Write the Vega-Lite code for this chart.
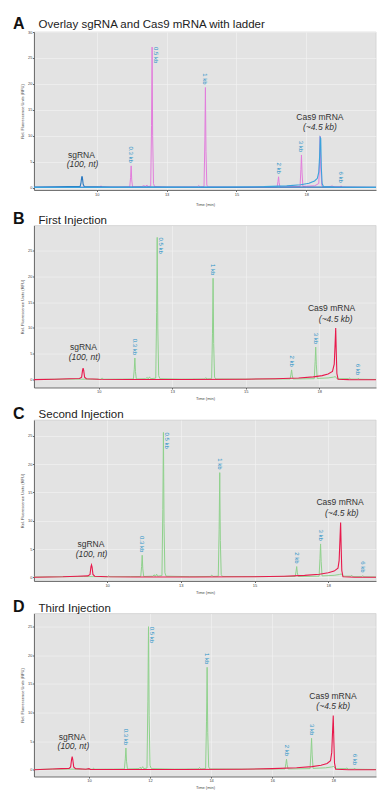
{
"$schema": "https://vega.github.io/schema/vega-lite/v6.json",
"padding": {"left": 12, "top": 15, "right": 8, "bottom": 4},
"spacing": 3.5,
"config": {
  "font": "Liberation Sans",
  "concat": {"spacing": 3.5},
  "view": {"fill": "#e3e3e3", "stroke": "#c8c8c8", "strokeWidth": 0.6},
  "axis": {"labelFontSize": 4, "labelColor": "#444", "titleFontSize": 4, "titleFontWeight": "normal", "titleColor": "#444", "tickSize": 1.5, "tickColor": "#666", "domainColor": "#555", "domainWidth": 0.8, "gridColor": "#f3f3f3", "gridWidth": 0.6, "labelPadding": 0.5, "titlePadding": 3},
  "title": {"anchor": "start", "frame": "group", "offset": -1.5, "dx": -21, "fontSize": 16, "fontWeight": "bold", "color": "#111", "subtitleFont": "Liberation Sans", "subtitleFontSize": 11.5, "subtitleColor": "#222", "subtitlePadding": -12.5}
},
"datasets": {
"aL": [{"t":7.75,"v":0.05},{"t":8.5,"v":0.1},{"t":9.0,"v":0.15},{"t":9.4,"v":0.1},{"t":10.1,"v":0.1},{"t":10.15,"v":0.35},{"t":10.2,"v":0.1},{"t":10.8,"v":0.1},{"t":11.18,"v":0.15},{"t":11.21,"v":2.0},{"t":11.23,"v":4.2},{"t":11.25,"v":1.5},{"t":11.28,"v":0.15},{"t":11.6,"v":0.2},{"t":11.7,"v":0.4},{"t":11.72,"v":0.15},{"t":11.8,"v":0.5},{"t":11.82,"v":0.2},{"t":11.93,"v":0.3},{"t":11.96,"v":12},{"t":11.98,"v":27.1},{"t":12.0,"v":10},{"t":12.03,"v":0.8},{"t":12.07,"v":0.2},{"t":12.5,"v":0.1},{"t":13.6,"v":0.15},{"t":13.65,"v":0.4},{"t":13.7,"v":0.15},{"t":13.84,"v":0.2},{"t":13.87,"v":9},{"t":13.89,"v":19.3},{"t":13.91,"v":7},{"t":13.94,"v":0.5},{"t":13.98,"v":0.15},{"t":15.0,"v":0.1},{"t":16.46,"v":0.15},{"t":16.49,"v":1.2},{"t":16.51,"v":2.1},{"t":16.53,"v":1.0},{"t":16.56,"v":0.15},{"t":17.28,"v":0.2},{"t":17.31,"v":3.5},{"t":17.33,"v":6.3},{"t":17.35,"v":3.0},{"t":17.38,"v":0.25},{"t":17.8,"v":0.35},{"t":17.95,"v":0.8},{"t":17.98,"v":5},{"t":18.0,"v":9.9},{"t":18.02,"v":4},{"t":18.06,"v":0.4},{"t":18.1,"v":0.15},{"t":18.4,"v":0.25},{"t":18.43,"v":0.4},{"t":18.46,"v":0.15},{"t":18.72,"v":0.15},{"t":18.75,"v":0.35},{"t":18.78,"v":0.1},{"t":20.0,"v":0.05}],
"aG": [{"t":7.75,"v":0.1},{"t":8.5,"v":0.15},{"t":9.0,"v":0.2},{"t":9.4,"v":0.2},{"t":9.43,"v":0.8},{"t":9.46,"v":2.1},{"t":9.48,"v":2.1},{"t":9.51,"v":0.7},{"t":9.55,"v":0.2},{"t":10.5,"v":0.1},{"t":12,"v":0.1},{"t":14,"v":0.05},{"t":16,"v":0.1},{"t":18,"v":0.1},{"t":20,"v":0.05}],
"aC": [{"t":7.75,"v":0.05},{"t":10,"v":0.05},{"t":14,"v":0.1},{"t":16,"v":0.2},{"t":16.8,"v":0.35},{"t":17.3,"v":0.55},{"t":17.6,"v":0.85},{"t":17.8,"v":1.3},{"t":17.9,"v":1.8},{"t":17.95,"v":3},{"t":17.98,"v":6},{"t":18.0,"v":9.7},{"t":18.02,"v":9.5},{"t":18.04,"v":4},{"t":18.07,"v":0.8},{"t":18.12,"v":0.2},{"t":18.5,"v":0.1},{"t":20,"v":0.05}],
"bL": [{"t":7.8,"v":0.05},{"t":8.5,"v":0.1},{"t":9.2,"v":0.12},{"t":9.8,"v":0.1},{"t":10.08,"v":0.1},{"t":10.12,"v":0.35},{"t":10.16,"v":0.1},{"t":10.8,"v":0.12},{"t":11.18,"v":0.15},{"t":11.21,"v":2.0},{"t":11.23,"v":4.2},{"t":11.25,"v":1.6},{"t":11.28,"v":0.15},{"t":11.6,"v":0.2},{"t":11.65,"v":0.45},{"t":11.68,"v":0.15},{"t":11.73,"v":0.55},{"t":11.76,"v":0.2},{"t":11.94,"v":0.3},{"t":11.97,"v":13},{"t":11.99,"v":27.5},{"t":12.01,"v":10},{"t":12.04,"v":0.8},{"t":12.08,"v":0.2},{"t":12.8,"v":0.12},{"t":13.6,"v":0.15},{"t":13.64,"v":0.4},{"t":13.68,"v":0.15},{"t":13.84,"v":0.2},{"t":13.87,"v":9},{"t":13.89,"v":19.6},{"t":13.91,"v":7},{"t":13.94,"v":0.5},{"t":13.98,"v":0.15},{"t":15.2,"v":0.12},{"t":16.51,"v":0.15},{"t":16.54,"v":1.1},{"t":16.56,"v":1.9},{"t":16.58,"v":0.9},{"t":16.61,"v":0.15},{"t":17.33,"v":0.2},{"t":17.36,"v":3.5},{"t":17.38,"v":6.3},{"t":17.4,"v":3.0},{"t":17.43,"v":0.25},{"t":17.8,"v":0.35},{"t":17.98,"v":0.5},{"t":18.05,"v":0.6},{"t":18.1,"v":0.2},{"t":18.5,"v":0.2},{"t":18.53,"v":0.35},{"t":18.56,"v":0.12},{"t":18.8,"v":0.12},{"t":18.83,"v":0.3},{"t":18.86,"v":0.1},{"t":19.43,"v":0.05}],
"bS": [{"t":7.8,"v":0.02},{"t":8.5,"v":0.1},{"t":9.0,"v":0.2},{"t":9.35,"v":0.25},{"t":9.42,"v":0.5},{"t":9.45,"v":1.8},{"t":9.47,"v":2.26},{"t":9.49,"v":1.8},{"t":9.52,"v":0.5},{"t":9.58,"v":0.2},{"t":10.0,"v":0.1},{"t":11,"v":0.05},{"t":13,"v":0.05},{"t":15,"v":0.1},{"t":16,"v":0.2},{"t":16.8,"v":0.35},{"t":17.3,"v":0.55},{"t":17.6,"v":0.8},{"t":17.8,"v":1.1},{"t":17.95,"v":1.6},{"t":18.01,"v":3},{"t":18.04,"v":7},{"t":18.06,"v":10.0},{"t":18.08,"v":5},{"t":18.1,"v":1.2},{"t":18.14,"v":0.1},{"t":18.5,"v":0.02},{"t":19.43,"v":0.0}],
"cL": [{"t":7.52,"v":0.05},{"t":8.5,"v":0.1},{"t":9.2,"v":0.12},{"t":9.8,"v":0.1},{"t":10.02,"v":0.1},{"t":10.05,"v":0.3},{"t":10.09,"v":0.1},{"t":10.8,"v":0.12},{"t":11.14,"v":0.15},{"t":11.17,"v":1.9},{"t":11.19,"v":3.9},{"t":11.21,"v":1.5},{"t":11.24,"v":0.15},{"t":11.55,"v":0.2},{"t":11.6,"v":0.45},{"t":11.63,"v":0.15},{"t":11.68,"v":0.55},{"t":11.71,"v":0.2},{"t":11.86,"v":0.3},{"t":11.89,"v":12},{"t":11.91,"v":25.6},{"t":11.93,"v":9.5},{"t":11.96,"v":0.8},{"t":12.0,"v":0.2},{"t":12.8,"v":0.12},{"t":13.5,"v":0.15},{"t":13.55,"v":0.4},{"t":13.59,"v":0.15},{"t":13.77,"v":0.2},{"t":13.8,"v":8.5},{"t":13.82,"v":18.5},{"t":13.84,"v":6.5},{"t":13.87,"v":0.5},{"t":13.91,"v":0.15},{"t":15.2,"v":0.12},{"t":16.38,"v":0.15},{"t":16.41,"v":1.1},{"t":16.43,"v":1.9},{"t":16.45,"v":0.9},{"t":16.48,"v":0.15},{"t":17.19,"v":0.2},{"t":17.22,"v":3.3},{"t":17.24,"v":5.9},{"t":17.26,"v":2.8},{"t":17.29,"v":0.25},{"t":17.7,"v":0.35},{"t":17.88,"v":0.5},{"t":17.95,"v":0.6},{"t":18.0,"v":0.2},{"t":18.27,"v":0.2},{"t":18.3,"v":0.35},{"t":18.33,"v":0.12},{"t":18.64,"v":0.12},{"t":18.67,"v":0.3},{"t":18.7,"v":0.1},{"t":19.12,"v":0.05}],
"cS": [{"t":7.52,"v":0.02},{"t":8.5,"v":0.1},{"t":9.0,"v":0.2},{"t":9.35,"v":0.25},{"t":9.42,"v":0.5},{"t":9.45,"v":1.8},{"t":9.47,"v":2.2},{"t":9.49,"v":1.8},{"t":9.52,"v":0.5},{"t":9.58,"v":0.2},{"t":10.0,"v":0.1},{"t":11,"v":0.05},{"t":13,"v":0.05},{"t":15,"v":0.1},{"t":16,"v":0.2},{"t":16.7,"v":0.35},{"t":17.2,"v":0.55},{"t":17.5,"v":0.8},{"t":17.7,"v":1.1},{"t":17.83,"v":1.6},{"t":17.87,"v":3},{"t":17.9,"v":7},{"t":17.92,"v":9.7},{"t":17.94,"v":5},{"t":17.96,"v":1.2},{"t":18.0,"v":0.1},{"t":18.4,"v":0.02},{"t":19.12,"v":0.0}],
"dL": [{"t":8.2,"v":0.05},{"t":8.8,"v":0.12},{"t":9.3,"v":0.12},{"t":9.8,"v":0.1},{"t":10.12,"v":0.1},{"t":10.15,"v":0.3},{"t":10.19,"v":0.1},{"t":10.8,"v":0.12},{"t":11.16,"v":0.15},{"t":11.19,"v":1.9},{"t":11.21,"v":3.8},{"t":11.23,"v":1.5},{"t":11.26,"v":0.15},{"t":11.64,"v":0.2},{"t":11.68,"v":0.45},{"t":11.71,"v":0.15},{"t":11.76,"v":0.55},{"t":11.79,"v":0.2},{"t":11.9,"v":0.3},{"t":11.93,"v":12},{"t":11.95,"v":25.0},{"t":11.97,"v":9.5},{"t":12.0,"v":0.8},{"t":12.04,"v":0.2},{"t":12.8,"v":0.12},{"t":13.58,"v":0.15},{"t":13.62,"v":0.4},{"t":13.66,"v":0.15},{"t":13.82,"v":0.2},{"t":13.85,"v":8.5},{"t":13.87,"v":17.9},{"t":13.89,"v":6.5},{"t":13.92,"v":0.5},{"t":13.96,"v":0.15},{"t":15.2,"v":0.12},{"t":16.42,"v":0.15},{"t":16.45,"v":1.1},{"t":16.47,"v":1.85},{"t":16.49,"v":0.9},{"t":16.52,"v":0.15},{"t":17.24,"v":0.2},{"t":17.27,"v":3.1},{"t":17.29,"v":5.5},{"t":17.31,"v":2.6},{"t":17.34,"v":0.25},{"t":17.75,"v":0.35},{"t":17.95,"v":0.5},{"t":18.02,"v":0.6},{"t":18.07,"v":0.2},{"t":18.42,"v":0.2},{"t":18.45,"v":0.35},{"t":18.48,"v":0.12},{"t":18.67,"v":0.12},{"t":18.7,"v":0.3},{"t":18.73,"v":0.1},{"t":19.4,"v":0.05}],
"dS": [{"t":8.2,"v":0.02},{"t":8.8,"v":0.15},{"t":9.1,"v":0.2},{"t":9.35,"v":0.25},{"t":9.4,"v":0.5},{"t":9.43,"v":1.8},{"t":9.45,"v":2.3},{"t":9.47,"v":1.8},{"t":9.5,"v":0.5},{"t":9.56,"v":0.2},{"t":9.9,"v":0.1},{"t":10,"v":0.2},{"t":10.05,"v":0.05},{"t":11,"v":0.05},{"t":13,"v":0.05},{"t":15,"v":0.1},{"t":16,"v":0.2},{"t":16.8,"v":0.35},{"t":17.3,"v":0.55},{"t":17.6,"v":0.8},{"t":17.8,"v":1.1},{"t":17.91,"v":1.6},{"t":17.95,"v":3},{"t":17.98,"v":7},{"t":18.0,"v":9.5},{"t":18.02,"v":5},{"t":18.04,"v":1.2},{"t":18.08,"v":0.1},{"t":18.5,"v":0.02},{"t":19.4,"v":0.0}],
"lb": [
 {"p":"A","t":11.23,"v":4.2,"lab":"0.3 kb","r":false},{"p":"A","t":11.98,"v":27.1,"lab":"0.5 kb","r":true},{"p":"A","t":13.89,"v":19.3,"lab":"1 kb","r":false},{"p":"A","t":16.51,"v":2.1,"lab":"2 kb","r":false},{"p":"A","t":17.33,"v":6.3,"lab":"3 kb","r":false},{"p":"A","t":18.75,"v":0.35,"lab":"6 kb","r":false},
 {"p":"B","t":11.23,"v":4.2,"lab":"0.3 kb","r":false},{"p":"B","t":11.99,"v":27.5,"lab":"0.5 kb","r":true},{"p":"B","t":13.89,"v":19.6,"lab":"1 kb","r":false},{"p":"B","t":16.56,"v":1.9,"lab":"2 kb","r":false},{"p":"B","t":17.38,"v":6.3,"lab":"3 kb","r":false},{"p":"B","t":18.83,"v":0.3,"lab":"6 kb","r":false},
 {"p":"C","t":11.19,"v":3.9,"lab":"0.3 kb","r":false},{"p":"C","t":11.91,"v":25.6,"lab":"0.5 kb","r":true},{"p":"C","t":13.82,"v":18.5,"lab":"1 kb","r":false},{"p":"C","t":16.43,"v":1.9,"lab":"2 kb","r":false},{"p":"C","t":17.24,"v":5.9,"lab":"3 kb","r":false},{"p":"C","t":18.67,"v":0.3,"lab":"6 kb","r":false},
 {"p":"D","t":11.21,"v":3.8,"lab":"0.3 kb","r":false},{"p":"D","t":11.95,"v":25.0,"lab":"0.5 kb","r":true},{"p":"D","t":13.87,"v":17.9,"lab":"1 kb","r":false},{"p":"D","t":16.47,"v":1.85,"lab":"2 kb","r":false},{"p":"D","t":17.29,"v":5.5,"lab":"3 kb","r":false},{"p":"D","t":18.7,"v":0.3,"lab":"6 kb","r":false}
],
"nt": [
 {"p":"A","t":9.45,"v":6.3,"txt":"sgRNA","it":false},{"p":"A","t":9.49,"v":4.5,"txt":"(100, nt)","it":true},{"p":"A","t":17.99,"v":13.65,"txt":"Cas9 mRNA","it":false},{"p":"A","t":17.99,"v":11.7,"txt":"(~4.5 kb)","it":true},
 {"p":"B","t":9.48,"v":6.3,"txt":"sgRNA","it":false},{"p":"B","t":9.52,"v":4.3,"txt":"(100, nt)","it":true},{"p":"B","t":17.92,"v":13.9,"txt":"Cas9 mRNA","it":false},{"p":"B","t":18.06,"v":11.7,"txt":"(~4.5 kb)","it":true},
 {"p":"C","t":9.45,"v":5.9,"txt":"sgRNA","it":false},{"p":"C","t":9.47,"v":4.1,"txt":"(100, nt)","it":true},{"p":"C","t":17.9,"v":13.25,"txt":"Cas9 mRNA","it":false},{"p":"C","t":17.96,"v":11.4,"txt":"(~4.5 kb)","it":true},
 {"p":"D","t":9.45,"v":5.8,"txt":"sgRNA","it":false},{"p":"D","t":9.49,"v":4.1,"txt":"(100, nt)","it":true},{"p":"D","t":17.99,"v":12.9,"txt":"Cas9 mRNA","it":false},{"p":"D","t":18.0,"v":11.2,"txt":"(~4.5 kb)","it":true}
]
},
"vconcat": [
{
 "width": 342, "height": 158,
 "title": {"text": "A", "subtitle": "\u200b\u00a0\u00a0\u00a0\u00a0\u00a0\u00a0\u00a0\u00a0Overlay sgRNA and Cas9 mRNA with ladder"},
 "encoding": {
  "x": {"field": "t", "type": "quantitative", "title": "Time (min)", "scale": {"domain": [7.75, 20], "nice": false, "zero": false}, "axis": {"values": [10, 12.5, 15, 17.5], "titlePadding": 6}},
  "y": {"field": "v", "type": "quantitative", "title": "Rel. Fluorescence Units (RFU)", "scale": {"domain": [-0.45, 30], "nice": false, "zero": false}, "axis": {"values": [0, 5, 10, 15, 20, 25, 30]}}
 },
 "layer": [
  {"data": {"name": "aL"}, "mark": {"type": "line", "color": "#e27ddc", "strokeWidth": 1, "clip": true}, "encoding": {"order": {"field": "t"}}},
  {"data": {"name": "aG"}, "mark": {"type": "line", "color": "#2a78c0", "strokeWidth": 1.1, "clip": true}, "encoding": {"order": {"field": "t"}}},
  {"data": {"name": "aC"}, "mark": {"type": "line", "color": "#3aa2dc", "strokeWidth": 1.1, "clip": true}, "encoding": {"order": {"field": "t"}}},
  {"data": {"name": "lb"}, "transform": [{"filter": "datum.p==='A' && !datum.r"}], "mark": {"type": "text", "angle": 90, "align": "right", "baseline": "middle", "dx": -3, "fontSize": 6, "color": "#2b93c8"}, "encoding": {"text": {"field": "lab"}}},
  {"data": {"name": "lb"}, "transform": [{"filter": "datum.p==='A' && datum.r"}], "mark": {"type": "text", "angle": 90, "align": "left", "baseline": "middle", "dx": 0, "dy": -3.5, "fontSize": 6, "color": "#2b93c8"}, "encoding": {"text": {"field": "lab"}}},
  {"data": {"name": "nt"}, "transform": [{"filter": "datum.p==='A' && !datum.it"}], "mark": {"type": "text", "align": "center", "baseline": "middle", "fontSize": 8.5, "color": "#333"}, "encoding": {"text": {"field": "txt"}}},
  {"data": {"name": "nt"}, "transform": [{"filter": "datum.p==='A' && datum.it"}], "mark": {"type": "text", "align": "center", "baseline": "middle", "fontSize": 8.5, "fontStyle": "italic", "color": "#333"}, "encoding": {"text": {"field": "txt"}}}
 ]
},
{
 "width": 342, "height": 162,
 "title": {"text": "B", "subtitle": "\u200b\u00a0\u00a0\u00a0\u00a0\u00a0\u00a0\u00a0\u00a0First Injection"},
 "encoding": {
  "x": {"field": "t", "type": "quantitative", "title": "Time (min)", "scale": {"domain": [7.8, 19.43], "nice": false, "zero": false}, "axis": {"values": [10, 12.5, 15, 17.5]}},
  "y": {"field": "v", "type": "quantitative", "title": "Rel. Fluorescence Units (RFU)", "scale": {"domain": [-1.5, 29.8], "nice": false, "zero": false}, "axis": {"values": [0, 5, 10, 15, 20, 25]}}
 },
 "layer": [
  {"data": {"name": "bL"}, "mark": {"type": "line", "color": "#8fd18c", "strokeWidth": 1, "clip": true}, "encoding": {"order": {"field": "t"}}},
  {"data": {"name": "bS"}, "mark": {"type": "line", "color": "#e8194c", "strokeWidth": 1.1, "clip": true}, "encoding": {"order": {"field": "t"}}},
  {"data": {"name": "lb"}, "transform": [{"filter": "datum.p==='B' && !datum.r"}], "mark": {"type": "text", "angle": 90, "align": "right", "baseline": "middle", "dx": -3, "fontSize": 6, "color": "#2b93c8"}, "encoding": {"text": {"field": "lab"}}},
  {"data": {"name": "lb"}, "transform": [{"filter": "datum.p==='B' && datum.r"}], "mark": {"type": "text", "angle": 90, "align": "left", "baseline": "middle", "dx": 0, "dy": -3.5, "fontSize": 6, "color": "#2b93c8"}, "encoding": {"text": {"field": "lab"}}},
  {"data": {"name": "nt"}, "transform": [{"filter": "datum.p==='B' && !datum.it"}], "mark": {"type": "text", "align": "center", "baseline": "middle", "fontSize": 8.5, "color": "#333"}, "encoding": {"text": {"field": "txt"}}},
  {"data": {"name": "nt"}, "transform": [{"filter": "datum.p==='B' && datum.it"}], "mark": {"type": "text", "align": "center", "baseline": "middle", "fontSize": 8.5, "fontStyle": "italic", "color": "#333"}, "encoding": {"text": {"field": "txt"}}}
 ]
},
{
 "width": 342, "height": 161,
 "title": {"text": "C", "subtitle": "\u200b\u00a0\u00a0\u00a0\u00a0\u00a0\u00a0\u00a0\u00a0Second Injection"},
 "encoding": {
  "x": {"field": "t", "type": "quantitative", "title": "Time (min)", "scale": {"domain": [7.52, 19.12], "nice": false, "zero": false}, "axis": {"values": [10, 12.5, 15, 17.5]}},
  "y": {"field": "v", "type": "quantitative", "title": "Rel. Fluorescence Units (RFU)", "scale": {"domain": [-0.65, 27.8], "nice": false, "zero": false}, "axis": {"values": [0, 5, 10, 15, 20, 25]}}
 },
 "layer": [
  {"data": {"name": "cL"}, "mark": {"type": "line", "color": "#8fd18c", "strokeWidth": 1, "clip": true}, "encoding": {"order": {"field": "t"}}},
  {"data": {"name": "cS"}, "mark": {"type": "line", "color": "#e8194c", "strokeWidth": 1.1, "clip": true}, "encoding": {"order": {"field": "t"}}},
  {"data": {"name": "lb"}, "transform": [{"filter": "datum.p==='C' && !datum.r"}], "mark": {"type": "text", "angle": 90, "align": "right", "baseline": "middle", "dx": -3, "fontSize": 6, "color": "#2b93c8"}, "encoding": {"text": {"field": "lab"}}},
  {"data": {"name": "lb"}, "transform": [{"filter": "datum.p==='C' && datum.r"}], "mark": {"type": "text", "angle": 90, "align": "left", "baseline": "middle", "dx": 0, "dy": -3.5, "fontSize": 6, "color": "#2b93c8"}, "encoding": {"text": {"field": "lab"}}},
  {"data": {"name": "nt"}, "transform": [{"filter": "datum.p==='C' && !datum.it"}], "mark": {"type": "text", "align": "center", "baseline": "middle", "fontSize": 8.5, "color": "#333"}, "encoding": {"text": {"field": "txt"}}},
  {"data": {"name": "nt"}, "transform": [{"filter": "datum.p==='C' && datum.it"}], "mark": {"type": "text", "align": "center", "baseline": "middle", "fontSize": 8.5, "fontStyle": "italic", "color": "#333"}, "encoding": {"text": {"field": "txt"}}}
 ]
},
{
 "width": 342, "height": 163,
 "title": {"text": "D", "subtitle": "\u200b\u00a0\u00a0\u00a0\u00a0\u00a0\u00a0\u00a0\u00a0Third Injection"},
 "encoding": {
  "x": {"field": "t", "type": "quantitative", "title": "Time (min)", "scale": {"domain": [8.2, 19.4], "nice": false, "zero": false}, "axis": {"values": [10, 12, 14, 16, 18]}},
  "y": {"field": "v", "type": "quantitative", "title": "Rel. Fluorescence Units (RFU)", "scale": {"domain": [-1.17, 27.3], "nice": false, "zero": false}, "axis": {"values": [0, 5, 10, 15, 20, 25]}}
 },
 "layer": [
  {"data": {"name": "dL"}, "mark": {"type": "line", "color": "#8fd18c", "strokeWidth": 1, "clip": true}, "encoding": {"order": {"field": "t"}}},
  {"data": {"name": "dS"}, "mark": {"type": "line", "color": "#e8194c", "strokeWidth": 1.1, "clip": true}, "encoding": {"order": {"field": "t"}}},
  {"data": {"name": "lb"}, "transform": [{"filter": "datum.p==='D' && !datum.r"}], "mark": {"type": "text", "angle": 90, "align": "right", "baseline": "middle", "dx": -3, "fontSize": 6, "color": "#2b93c8"}, "encoding": {"text": {"field": "lab"}}},
  {"data": {"name": "lb"}, "transform": [{"filter": "datum.p==='D' && datum.r"}], "mark": {"type": "text", "angle": 90, "align": "left", "baseline": "middle", "dx": 0, "dy": -3.5, "fontSize": 6, "color": "#2b93c8"}, "encoding": {"text": {"field": "lab"}}},
  {"data": {"name": "nt"}, "transform": [{"filter": "datum.p==='D' && !datum.it"}], "mark": {"type": "text", "align": "center", "baseline": "middle", "fontSize": 8.5, "color": "#333"}, "encoding": {"text": {"field": "txt"}}},
  {"data": {"name": "nt"}, "transform": [{"filter": "datum.p==='D' && datum.it"}], "mark": {"type": "text", "align": "center", "baseline": "middle", "fontSize": 8.5, "fontStyle": "italic", "color": "#333"}, "encoding": {"text": {"field": "txt"}}}
 ]
}
]
}
